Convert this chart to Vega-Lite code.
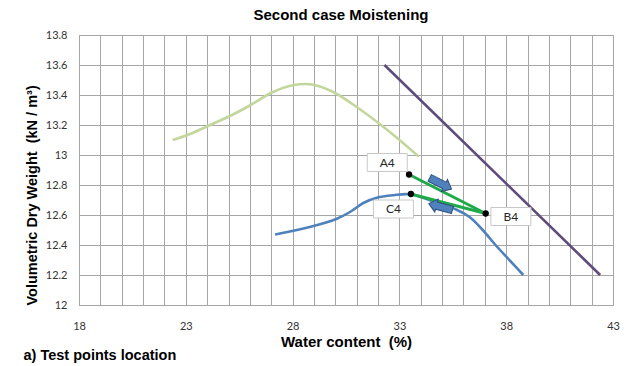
{
  "$schema": "https://vega.github.io/schema/vega-lite/v6.json",
  "width": 534,
  "height": 270,
  "autosize": {"type": "none"},
  "padding": {"left": 79, "top": 35, "right": 14, "bottom": 61},
  "background": "white",
  "title": {"text": "Second case Moistening", "font": "Liberation Sans", "fontSize": 15, "fontWeight": "bold", "color": "#000000", "anchor": "middle", "offset": 6, "dx": -5},
  "config": {
    "view": {"stroke": "#8c8c8c", "strokeWidth": 1},
    "axis": {"gridColor": "#a6a6a6", "gridWidth": 1, "gridOpacity": 1, "domain": false, "ticks": false, "labelFont": "Lato", "labelFontSize": 11, "labelColor": "#333333", "titleFont": "Liberation Sans", "titleFontSize": 15, "titleFontWeight": "bold", "titleColor": "#000000"}
  },
  "datasets": {
    "curves": [
      {"series": "light", "w": 22.39, "g": 13.10},
      {"series": "light", "w": 23.2, "g": 13.14},
      {"series": "light", "w": 23.98, "g": 13.19},
      {"series": "light", "w": 25.07, "g": 13.26},
      {"series": "light", "w": 26.0, "g": 13.33},
      {"series": "light", "w": 27.08, "g": 13.42},
      {"series": "light", "w": 28.02, "g": 13.465},
      {"series": "light", "w": 28.9, "g": 13.47},
      {"series": "light", "w": 29.9, "g": 13.42},
      {"series": "light", "w": 31.0, "g": 13.32},
      {"series": "light", "w": 32.23, "g": 13.19},
      {"series": "light", "w": 33.17, "g": 13.08},
      {"series": "light", "w": 33.9, "g": 12.99},
      {"series": "blue", "w": 27.18, "g": 12.47},
      {"series": "blue", "w": 28.8, "g": 12.52},
      {"series": "blue", "w": 29.99, "g": 12.57},
      {"series": "blue", "w": 30.69, "g": 12.62},
      {"series": "blue", "w": 31.31, "g": 12.68},
      {"series": "blue", "w": 31.94, "g": 12.715},
      {"series": "blue", "w": 32.72, "g": 12.732},
      {"series": "blue", "w": 33.5, "g": 12.738},
      {"series": "blue", "w": 34.59, "g": 12.69},
      {"series": "blue", "w": 35.68, "g": 12.635},
      {"series": "blue", "w": 36.3, "g": 12.585},
      {"series": "blue", "w": 36.9, "g": 12.50},
      {"series": "blue", "w": 37.5, "g": 12.40},
      {"series": "blue", "w": 38.18, "g": 12.295},
      {"series": "blue", "w": 38.8, "g": 12.20},
      {"series": "purple", "w": 32.3, "g": 13.6},
      {"series": "purple", "w": 42.4, "g": 12.2}
    ],
    "links": [
      {"seg": "A4-B4", "w": 33.45, "g": 12.87},
      {"seg": "A4-B4", "w": 37.04, "g": 12.61},
      {"seg": "C4-B4", "w": 33.54, "g": 12.74},
      {"seg": "C4-B4", "w": 37.04, "g": 12.61}
    ],
    "arrows": [
      {"w": 34.93, "g": 12.81, "dir": 27},
      {"w": 34.93, "g": 12.655, "dir": 195}
    ],
    "points": [
      {"name": "A4", "w": 33.45, "g": 12.87},
      {"name": "C4", "w": 33.54, "g": 12.74},
      {"name": "B4", "w": 37.04, "g": 12.61}
    ],
    "labels": [
      {"name": "A4", "w": 32.43, "g": 12.95},
      {"name": "C4", "w": 32.72, "g": 12.64},
      {"name": "B4", "w": 38.22, "g": 12.59}
    ]
  },
  "resolve": {"axis": {"x": "independent"}},
  "encoding": {
    "x": {"field": "w", "type": "quantitative", "scale": {"domain": [18, 43], "nice": false, "zero": false}, "axis": null},
    "y": {"field": "g", "type": "quantitative", "scale": {"domain": [12, 13.8], "nice": false, "zero": false},
      "axis": {"title": "Volumetric Dry Weight \u00a0(kN / m³)", "values": [12,12.2,12.4,12.6,12.8,13,13.2,13.4,13.6,13.8], "format": "~g", "labelPadding": 12, "titlePadding": 6, "titleAnchor": "start", "titleFontSize": 14.5, "labelFlush": false, "labelOverlap": false}}
  },
  "layer": [
    {
      "data": {"name": "curves"},
      "mark": {"type": "line", "interpolate": "catmull-rom", "strokeWidth": 2.6},
      "encoding": {
        "x": {"field": "w", "type": "quantitative",
          "axis": {"orient": "bottom", "title": "Water content \u00a0(%)", "values": [18,19,20,21,22,23,24,25,26,27,28,29,30,31,32,33,34,35,36,37,38,39,40,41,42,43],
            "labelExpr": "(datum.value - 18) % 5 == 0 ? datum.label : ''", "labelPadding": 15, "titlePadding": 3, "labelFlush": false, "labelOverlap": false}},
        "color": {"field": "series", "type": "nominal", "scale": {"domain": ["light", "blue", "purple"], "range": ["#c3d69b", "#4f81bd", "#5f4a7c"]}, "legend": null}
      }
    },
    {
      "data": {"name": "links"},
      "mark": {"type": "line", "color": "#1faa4a", "strokeWidth": 3},
      "encoding": {
        "x": {"field": "w", "type": "quantitative",
          "axis": {"orient": "bottom", "title": "a) Test points location", "labels": false, "grid": false, "domain": false, "ticks": false, "titleX": -56, "titleY": 50, "titleAlign": "left", "titleBaseline": "middle", "titleFontSize": 14.5}},
        "detail": {"field": "seg", "type": "nominal"}
      }
    },
    {
      "data": {"name": "arrows"},
      "mark": {"type": "point", "shape": "M -1 -0.3 L 0.35 -0.3 L 0.35 -0.55 L 1 0 L 0.35 0.55 L 0.35 0.3 L -1 0.3 Z", "filled": true, "fill": "#4f81bd", "stroke": "#2f4f7f", "strokeWidth": 1, "opacity": 1, "size": 600},
      "encoding": {
        "angle": {"field": "dir", "type": "quantitative", "scale": null}
      }
    },
    {
      "data": {"name": "points"},
      "mark": {"type": "point", "shape": "circle", "filled": true, "color": "#000000", "opacity": 1, "size": 40},
      "encoding": {}
    },
    {
      "data": {"name": "labels"},
      "mark": {"type": "point", "shape": "M -1 -0.45 L 1 -0.45 L 1 0.45 L -1 0.45 Z", "filled": true, "fill": "#ffffff", "stroke": "#c8c8c8", "strokeWidth": 1, "opacity": 1, "size": 1600},
      "encoding": {}
    },
    {
      "data": {"name": "labels"},
      "mark": {"type": "text", "font": "Lato", "fontSize": 12, "color": "#262626", "align": "center", "baseline": "middle"},
      "encoding": {
        "text": {"field": "name", "type": "nominal"}
      }
    }
  ]
}
